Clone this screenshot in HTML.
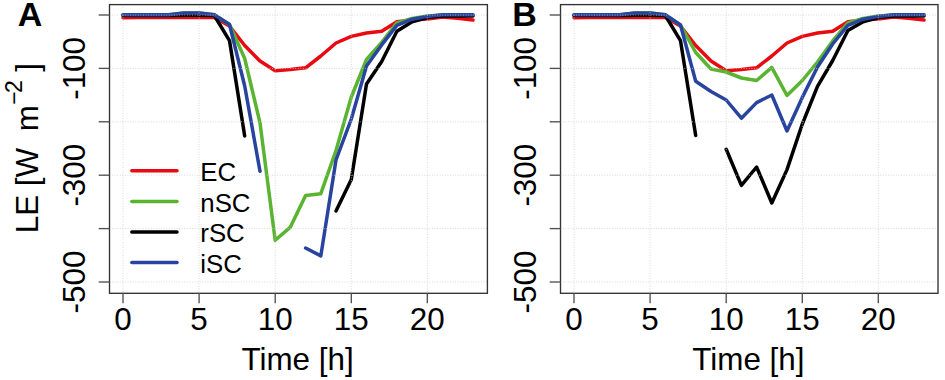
<!DOCTYPE html>
<html><head><meta charset="utf-8"><title>LE diurnal</title>
<style>
html,body{margin:0;padding:0;background:#fff;}
body{width:945px;height:380px;overflow:hidden;}
svg{display:block;font-family:"Liberation Sans",sans-serif;}
</style></head><body>
<svg width="945" height="380" viewBox="0 0 945 380">
<rect width="945" height="380" fill="#fff"/>
<g fill="none" stroke-width="3.5" stroke-linecap="round" stroke-linejoin="round">
<polyline points="123.0,17.8 138.2,17.5 153.4,17.4 168.7,17.4 183.9,17.4 199.1,17.4 214.3,17.4 229.5,26.0 244.7,45.5 260.0,61.0 275.2,70.8 290.4,69.5 305.6,67.8 320.8,56.0 336.0,43.0 351.3,36.4 366.5,33.0 381.7,31.3 396.9,21.7 412.1,20.0 427.3,19.0 442.6,17.0 457.8,18.3 473.0,20.0" stroke="#e80a10"/>
<polyline points="123.0,14.8 138.2,14.8 153.4,14.8 168.7,14.8 183.9,13.0 199.1,12.9 214.3,14.8 229.5,24.5 244.7,58.5 260.0,122.9 275.2,240.3 290.4,227.1 305.6,195.5 320.8,193.7 336.0,150.5 351.3,97.0 366.5,59.5 381.7,42.3 396.9,22.9 412.1,18.5 427.3,16.0 442.6,14.9 457.8,14.9 473.0,14.9" stroke="#5ab432"/>
<polyline points="123.0,15.5 138.2,15.5 153.4,15.5 168.7,15.5 183.9,15.3 199.1,15.2 214.3,15.5 229.5,40.6 244.7,136.0" stroke="#000000"/>
<polyline points="336.0,211.0 351.3,179.6 366.5,84.0 381.7,61.5 396.9,31.3 412.1,21.8 427.3,17.6 442.6,15.9 457.8,15.9 473.0,15.9" stroke="#000000"/>
<polyline points="123.0,14.8 138.2,14.8 153.4,14.8 168.7,14.8 183.9,13.0 199.1,12.9 214.3,14.8 229.5,24.5 244.7,86.0 260.0,171.2" stroke="#28449e"/>
<polyline points="305.6,248.0 320.8,255.9 336.0,160.0 351.3,119.0 366.5,66.0 381.7,44.9 396.9,25.4 412.1,19.2 427.3,16.4 442.6,14.8 457.8,14.8 473.0,14.8" stroke="#28449e"/>
</g>
<g stroke="#cccccc" stroke-width="0.8" stroke-dasharray="0.9 1.68" fill="none">
<line x1="123.0" y1="4.6" x2="123.0" y2="293.3"/>
<line x1="199.1" y1="4.6" x2="199.1" y2="293.3"/>
<line x1="275.2" y1="4.6" x2="275.2" y2="293.3"/>
<line x1="351.3" y1="4.6" x2="351.3" y2="293.3"/>
<line x1="427.3" y1="4.6" x2="427.3" y2="293.3"/>
<line x1="109.5" y1="15.0" x2="487.4" y2="15.0"/>
<line x1="109.5" y1="68.4" x2="487.4" y2="68.4"/>
<line x1="109.5" y1="121.8" x2="487.4" y2="121.8"/>
<line x1="109.5" y1="175.2" x2="487.4" y2="175.2"/>
<line x1="109.5" y1="228.6" x2="487.4" y2="228.6"/>
<line x1="109.5" y1="282.0" x2="487.4" y2="282.0"/>
</g>
<g fill="none" stroke-width="3.5" stroke-linecap="round">
<line x1="131.8" y1="170.8" x2="177.0" y2="170.8" stroke="#e80a10"/>
<line x1="131.8" y1="201.4" x2="177.0" y2="201.4" stroke="#5ab432"/>
<line x1="131.8" y1="231.9" x2="177.0" y2="231.9" stroke="#000000"/>
<line x1="131.8" y1="262.5" x2="177.0" y2="262.5" stroke="#28449e"/>
</g>
<g font-size="25.8" fill="#000">
<text x="200.3" y="181.2">EC</text>
<text x="200.3" y="211.6">nSC</text>
<text x="200.3" y="242.1">rSC</text>
<text x="200.3" y="272.5">iSC</text>
</g>
<rect x="109.5" y="4.6" width="377.9" height="288.7" stroke="#333" stroke-width="1.35" fill="none"/>
<g stroke="#505050" stroke-width="1.35" fill="none">
<line x1="123.0" y1="293.3" x2="123.0" y2="303.3"/>
<line x1="199.1" y1="293.3" x2="199.1" y2="303.3"/>
<line x1="275.2" y1="293.3" x2="275.2" y2="303.3"/>
<line x1="351.3" y1="293.3" x2="351.3" y2="303.3"/>
<line x1="427.3" y1="293.3" x2="427.3" y2="303.3"/>
<line x1="98.7" y1="15.0" x2="109.5" y2="15.0"/>
<line x1="98.7" y1="68.4" x2="109.5" y2="68.4"/>
<line x1="98.7" y1="121.8" x2="109.5" y2="121.8"/>
<line x1="98.7" y1="175.2" x2="109.5" y2="175.2"/>
<line x1="98.7" y1="228.6" x2="109.5" y2="228.6"/>
<line x1="98.7" y1="282.0" x2="109.5" y2="282.0"/>
</g>
<g font-size="31.4" fill="#000" text-anchor="middle">
<text x="123.0" y="329.6">0</text>
<text x="199.1" y="329.6">5</text>
<text x="275.2" y="329.6">10</text>
<text x="351.3" y="329.6">15</text>
<text x="427.3" y="329.6">20</text>
<text x="297.6" y="369.7">Time [h]</text>
<text transform="translate(84.9,68.4) rotate(-90)" x="0" y="0">-100</text>
<text transform="translate(84.9,175.2) rotate(-90)" x="0" y="0">-300</text>
<text transform="translate(84.9,282.0) rotate(-90)" x="0" y="0">-500</text>
</g>
<text x="17.8" y="25.6" font-size="34" font-weight="bold" fill="#000">A</text>
<g fill="none" stroke-width="3.5" stroke-linecap="round" stroke-linejoin="round">
<polyline points="574.0,17.8 589.2,17.5 604.4,17.4 619.7,17.4 634.9,17.4 650.1,17.4 665.3,17.4 680.5,26.0 695.7,45.5 711.0,61.0 726.2,70.8 741.4,69.5 756.6,67.8 771.8,56.0 787.0,43.0 802.3,36.4 817.5,33.0 832.7,31.3 847.9,21.7 863.1,20.0 878.3,19.0 893.6,17.0 908.8,18.3 924.0,20.0" stroke="#e80a10"/>
<polyline points="574.0,14.8 589.2,14.8 604.4,14.8 619.7,14.8 634.9,13.0 650.1,12.9 665.3,14.8 680.5,25.0 695.7,52.5 711.0,69.0 726.2,72.0 741.4,78.0 756.6,80.5 771.8,67.4 787.0,95.5 802.3,80.5 817.5,62.0 832.7,41.0 847.9,22.9 863.1,18.5 878.3,16.0 893.6,14.9 908.8,14.9 924.0,14.9" stroke="#5ab432"/>
<polyline points="574.0,15.5 589.2,15.5 604.4,15.5 619.7,15.5 634.9,15.3 650.1,15.2 665.3,15.5 680.5,40.7 695.7,135.5" stroke="#000000"/>
<polyline points="726.2,149.3 741.4,185.4 756.6,167.0 771.8,203.0 787.0,169.6 802.3,124.0 817.5,86.4 832.7,60.5 847.9,30.5 863.1,21.8 878.3,17.6 893.6,15.9 908.8,15.9 924.0,15.9" stroke="#000000"/>
<polyline points="574.0,14.8 589.2,14.8 604.4,14.8 619.7,14.8 634.9,13.0 650.1,12.9 665.3,14.8 680.5,25.0 695.7,81.3 711.0,91.5 726.2,100.0 741.4,118.2 756.6,102.6 771.8,95.0 787.0,131.0 802.3,97.4 817.5,67.0 832.7,44.0 847.9,25.4 863.1,19.2 878.3,16.4 893.6,14.8 908.8,14.8 924.0,14.8" stroke="#28449e"/>
</g>
<g stroke="#cccccc" stroke-width="0.8" stroke-dasharray="0.9 1.68" fill="none">
<line x1="574.0" y1="4.6" x2="574.0" y2="293.3"/>
<line x1="650.1" y1="4.6" x2="650.1" y2="293.3"/>
<line x1="726.2" y1="4.6" x2="726.2" y2="293.3"/>
<line x1="802.3" y1="4.6" x2="802.3" y2="293.3"/>
<line x1="878.3" y1="4.6" x2="878.3" y2="293.3"/>
<line x1="560.5" y1="15.0" x2="938.0" y2="15.0"/>
<line x1="560.5" y1="68.4" x2="938.0" y2="68.4"/>
<line x1="560.5" y1="121.8" x2="938.0" y2="121.8"/>
<line x1="560.5" y1="175.2" x2="938.0" y2="175.2"/>
<line x1="560.5" y1="228.6" x2="938.0" y2="228.6"/>
<line x1="560.5" y1="282.0" x2="938.0" y2="282.0"/>
</g>
<rect x="560.5" y="4.6" width="377.5" height="288.7" stroke="#333" stroke-width="1.35" fill="none"/>
<g stroke="#505050" stroke-width="1.35" fill="none">
<line x1="574.0" y1="293.3" x2="574.0" y2="303.3"/>
<line x1="650.1" y1="293.3" x2="650.1" y2="303.3"/>
<line x1="726.2" y1="293.3" x2="726.2" y2="303.3"/>
<line x1="802.3" y1="293.3" x2="802.3" y2="303.3"/>
<line x1="878.3" y1="293.3" x2="878.3" y2="303.3"/>
<line x1="549.7" y1="15.0" x2="560.5" y2="15.0"/>
<line x1="549.7" y1="68.4" x2="560.5" y2="68.4"/>
<line x1="549.7" y1="121.8" x2="560.5" y2="121.8"/>
<line x1="549.7" y1="175.2" x2="560.5" y2="175.2"/>
<line x1="549.7" y1="228.6" x2="560.5" y2="228.6"/>
<line x1="549.7" y1="282.0" x2="560.5" y2="282.0"/>
</g>
<g font-size="31.4" fill="#000" text-anchor="middle">
<text x="574.0" y="329.6">0</text>
<text x="650.1" y="329.6">5</text>
<text x="726.2" y="329.6">10</text>
<text x="802.3" y="329.6">15</text>
<text x="878.3" y="329.6">20</text>
<text x="748.4" y="369.7">Time [h]</text>
<text transform="translate(535.9,68.4) rotate(-90)" x="0" y="0">-100</text>
<text transform="translate(535.9,175.2) rotate(-90)" x="0" y="0">-300</text>
<text transform="translate(535.9,282.0) rotate(-90)" x="0" y="0">-500</text>
</g>
<text x="512.2" y="25.6" font-size="34" font-weight="bold" fill="#000">B</text>
<g font-size="31.4" fill="#000" transform="translate(38.2,0) rotate(-90)">
<text x="-233.2" y="0">LE</text>
<text x="-186.2" y="0">[W</text>
<text x="-131.2" y="0">m</text>
<text x="-104.8" y="-16.4" font-size="23">&#8722;</text>
<text x="-93.0" y="-16.4" font-size="23">2</text>
<text x="-71.8" y="0">]</text>
</g>
</svg>
</body></html>
